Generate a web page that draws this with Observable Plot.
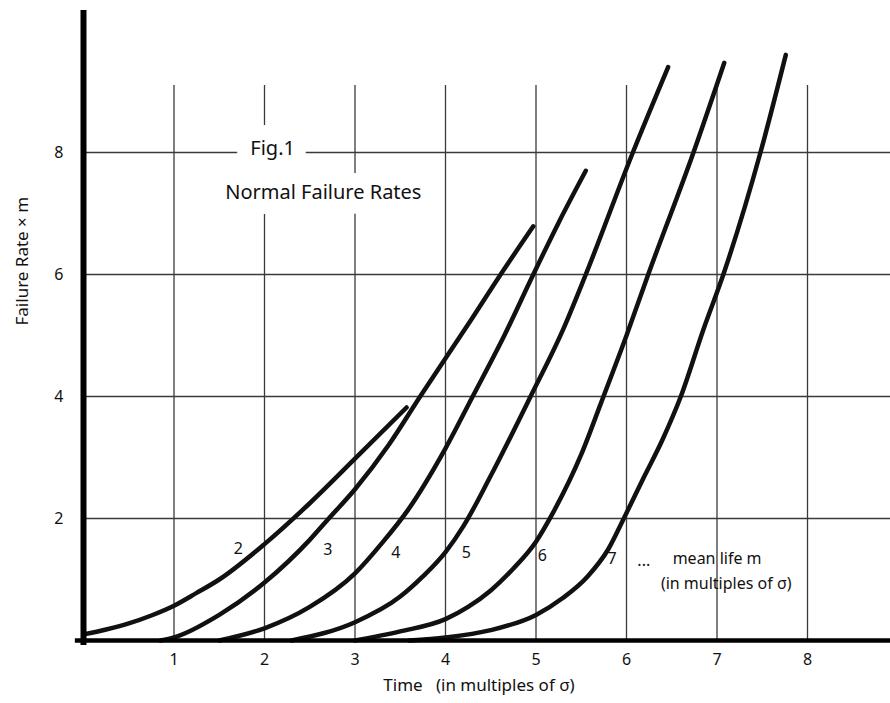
<!DOCTYPE html>
<html><head><meta charset="utf-8">
<script src="https://cdn.jsdelivr.net/npm/d3@7"></script>
<script src="https://cdn.jsdelivr.net/npm/@observablehq/plot@0.6"></script>
<style>
body{margin:0;background:#fff;}
#chart svg{display:block}
</style></head><body><div id="chart"></div>
<script>
// mean life m (in multiples of sigma) for each curve
const meanLives = [2, 3, 4, 5, 6, 7];

// time (multiples of sigma) and failure rate x m
const t2 = [0, 0.25, 0.5, 0.75, 1, 1.25, 1.5, 2, 2.5, 3, 3.57];
const r2 = [0.1, 0.18, 0.28, 0.41, 0.57, 0.78, 1.0, 1.58, 2.25, 2.98, 3.82];
const t3 = [0.85, 1, 1.5, 2, 2.5, 2.71, 3, 3.37, 3.72, 4.28, 4.6, 4.97];
const r3 = [0, 0.05, 0.42, 0.95, 1.65, 2.0, 2.48, 3.2, 4.0, 5.25, 5.98, 6.79];
const t4 = [1.5, 2, 2.5, 3, 3.3, 3.59, 4.0, 4.3, 4.65, 4.97, 5.25, 5.55];
const r4 = [0, 0.2, 0.55, 1.1, 1.6, 2.15, 3.15, 4.0, 5.0, 6.0, 6.85, 7.7];
const t5 = [2.3, 3, 3.5, 3.75, 4, 4.2, 4.5, 4.94, 5.3, 5.55, 6.07, 6.46];
const r5 = [0, 0.3, 0.72, 1.05, 1.45, 1.88, 2.7, 4.0, 5.1, 6.0, 8.0, 9.4];
const t6 = [3.0, 3.5, 4, 4.25, 4.5, 4.75, 5, 5.19, 5.5, 5.72, 6.0, 6.24, 6.74, 7.08];
const r6 = [0, 0.15, 0.35, 0.55, 0.82, 1.18, 1.62, 2.1, 3.05, 3.9, 5.0, 6.0, 8.0, 9.47];
const t7 = [3.6, 4, 4.5, 5, 5.3, 5.57, 5.8, 5.97, 6.2, 6.4, 6.6, 6.85, 7.07, 7.48, 7.76];
const r7 = [0, 0.05, 0.17, 0.42, 0.7, 1.05, 1.5, 2.0, 2.7, 3.3, 4.0, 5.1, 6.0, 8.0, 9.6];

// tick values
const xTicks = [1, 2, 3, 4, 5, 6, 7, 8];
const yTicks = [2, 4, 6, 8];

// curve labels (mean life m)
const curveLabels = ["2", "3", "4", "5", "6", "7"];
const labelT = [1.71, 2.70, 3.45, 4.23, 5.07, 5.84];
const labelR = [1.51, 1.48, 1.44, 1.44, 1.38, 1.34];

// notes
const titleLines = ["Fig.1", "Normal Failure Rates"];
const titleT = [2.09, 2.65];
const titleR = [8.07, 7.34];
const noteLines = ["...", "mean life m", "(in multiples of \u03c3)"];
const noteT = [6.12, 6.51, 6.38];
const noteR = [1.30, 1.34, 0.93];

const xLabel = "Time   (in multiples of \u03c3)";
const yLabel = "Failure Rate \u00d7 m";

// build tables
const times = [t2, t3, t4, t5, t6, t7];
const rates = [r2, r3, r4, r5, r6, r7];
const curves = meanLives.flatMap((m, i) => times[i].map((t, j) => ({m, t, r: rates[i][j]})));
const labels = curveLabels.map((s, i) => ({s, t: labelT[i], r: labelR[i]}));
const titles = titleLines.map((s, i) => ({s, t: titleT[i], r: titleR[i]}));
const notes = noteLines.map((s, i) => ({s, t: noteT[i], r: noteR[i]}));

const xMax = (890 - 83) / 90.5;
const yMax = (640 - 10) / 61;

const chart = Plot.plot({
  width: 890,
  height: 703,
  marginLeft: 83,
  marginRight: 0,
  marginTop: 10,
  marginBottom: 63,
  x: {domain: [0, xMax]},
  y: {domain: [0, yMax]},
  style: {fontFamily: "'Noto Sans', sans-serif", background: "#fff", color: "#111"},
  marks: [
    Plot.ruleX(xTicks, {y1: 0, y2: 9.1, stroke: "#3a3a3a", strokeWidth: 1.3}),
    Plot.ruleY(yTicks, {stroke: "#3a3a3a", strokeWidth: 1.3}),
    Plot.text(titles, {x: "t", y: "r", text: "s", fontSize: 20, fill: "#111",
      stroke: "white", strokeWidth: 30, strokeLinejoin: "round"}),
    Plot.line(curves, {x: "t", y: "r", z: "m", curve: "monotone-x",
      stroke: "#111", strokeWidth: 4.5, strokeLinecap: "round"}),
    Plot.ruleX([0], {y1: -0.08, y2: yMax, stroke: "#000", strokeWidth: 6}),
    Plot.ruleY([0], {x1: -0.09, x2: xMax, stroke: "#000", strokeWidth: 4.5}),
    Plot.text(labels, {x: "t", y: "r", text: "s", fontSize: 16, fill: "#111"}),
    Plot.text(notes, {x: "t", y: "r", text: "s", fontSize: 16, fill: "#111",
      textAnchor: "start"}),
    Plot.axisX(xTicks, {tickSize: 0, tickPadding: 13, fontSize: 16, label: null, tickFormat: "d"}),
    Plot.axisY(yTicks, {tickSize: 0, tickPadding: 20, fontSize: 16, label: null, tickFormat: "d"}),
    Plot.text([xLabel], {frameAnchor: "bottom", dy: 50, dx: -8, fontSize: 17, fill: "#111"}),
    Plot.text([yLabel], {frameAnchor: "left", dx: -61, rotate: -90, fontSize: 17, fill: "#111"})
  ]
});
document.getElementById("chart").appendChild(chart);
</script>
</body></html>
